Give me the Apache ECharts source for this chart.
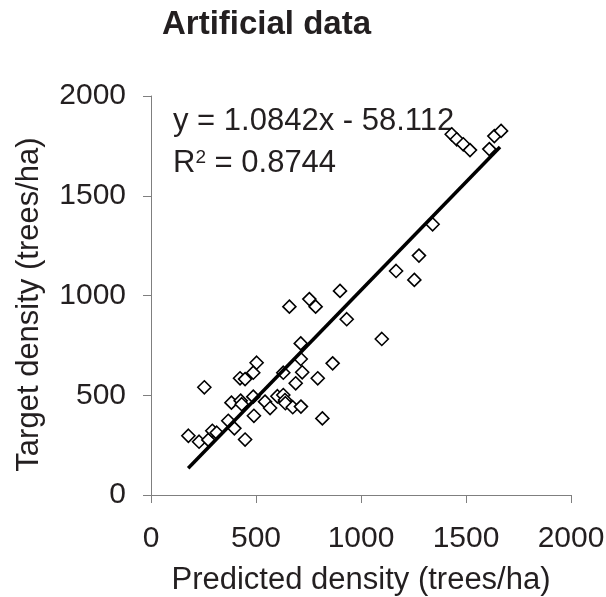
<!DOCTYPE html>
<html>
<head>
<meta charset="utf-8">
<title>Artificial data</title>
<script src="https://cdn.jsdelivr.net/npm/echarts@6/dist/echarts.min.js"></script>
<style>
    html, body { margin: 0; padding: 0; background: #fff; }
    #main { width: 606px; height: 597px; }
</style>
</head>
<body>
<div id="main"></div>
<script type="text/javascript">
// values
var predicted = [178, 229, 273, 292, 313, 254, 368, 397, 448, 383,
                 427, 432, 487, 490, 424, 448, 487, 503, 543, 567,
                 602, 630, 638, 640, 630, 675, 714, 689, 720, 713,
                 713, 659, 754, 784, 794, 816, 865, 900, 932, 1099,
                 1167, 1254, 1276, 1341, 1432, 1456, 1487, 1519, 1611, 1635,
                 1667];
var target = [297, 267, 276, 322, 312, 540, 372, 334, 278, 463,
              473, 455, 493, 397, 585, 581, 613, 663, 468, 436,
              495, 501, 476, 460, 613, 440, 443, 560, 615, 682,
              760, 944, 982, 944, 585, 384, 660, 1023, 881, 782,
              1123, 1078, 1200, 1357, 1808, 1783, 1758, 1729, 1734, 1799,
              1825];
// trend line end points
var fitX = [177, 1662];
var fitY = [134, 1744];
var axisMin = 0, axisMax = 2000, axisStep = 500;

var textColor = '#231f20';
var axisColor = '#7f7f7f';
var font = 'Liberation Sans, Arial, sans-serif';

var points = predicted.map(function (v, i) { return [v, target[i]]; });
var fitLine = fitX.map(function (v, i) { return [v, fitY[i]]; });

var myChart = echarts.init(document.getElementById('main'));

function axis(name, gap, namePad, labelMargin) {
    return {
        type: 'value',
        min: axisMin,
        max: axisMax,
        interval: axisStep,
        name: name,
        nameLocation: 'middle',
        nameGap: gap,
        nameTextStyle: { fontSize: 31, color: textColor, fontFamily: font, padding: namePad },
        splitLine: { show: false },
        axisLine: { show: true, lineStyle: { color: axisColor, width: 1 } },
        axisTick: { show: true, length: 8, lineStyle: { color: axisColor, width: 1 } },
        axisLabel: {
            fontSize: 30, color: textColor, fontFamily: font, margin: labelMargin,
            formatter: function (v) { return String(v); }
        }
    };
}

var option = {
    animation: false,
    backgroundColor: '#fff',
    title: {
        text: 'Artificial data',
        left: 157,
        top: 3,
        textStyle: { fontSize: 33, fontWeight: 'bold', color: textColor, fontFamily: font }
    },
    grid: { left: 151, right: 35, top: 96, bottom: 102, outerBoundsMode: 'none', containLabel: false },
    xAxis: axis('Predicted density (trees/ha)', 70, 0, 29),
    yAxis: axis('Target density (trees/ha)', 106, [0, 18, 0, 0], 25),
    graphic: [
        {
            type: 'text', left: 173, top: 106,
            style: { text: 'y = 1.0842x - 58.112', fill: textColor, font: '31px ' + font }
        },
        {
            type: 'text', left: 173, top: 148,
            style: {
                text: '{a|R}{s|2}{a| = 0.8744}',
                fill: textColor,
                rich: {
                    a: { fontSize: 31, fontFamily: font, fill: textColor, verticalAlign: 'bottom' },
                    s: { fontSize: 19, fontFamily: font, fill: textColor, verticalAlign: 'top', padding: [0, 0, 12, 0] }
                }
            }
        }
    ],
    series: [
        {
            type: 'scatter',
            symbol: 'diamond',
            symbolSize: 13,
            itemStyle: { color: '#fff', borderColor: '#000', borderWidth: 1.6, opacity: 1 },
            data: points,
            z: 2
        },
        {
            type: 'line',
            symbol: 'none',
            lineStyle: { color: '#000', width: 3.5 },
            data: fitLine,
            z: 3
        }
    ]
};
myChart.setOption(option);
</script>
</body>
</html>
